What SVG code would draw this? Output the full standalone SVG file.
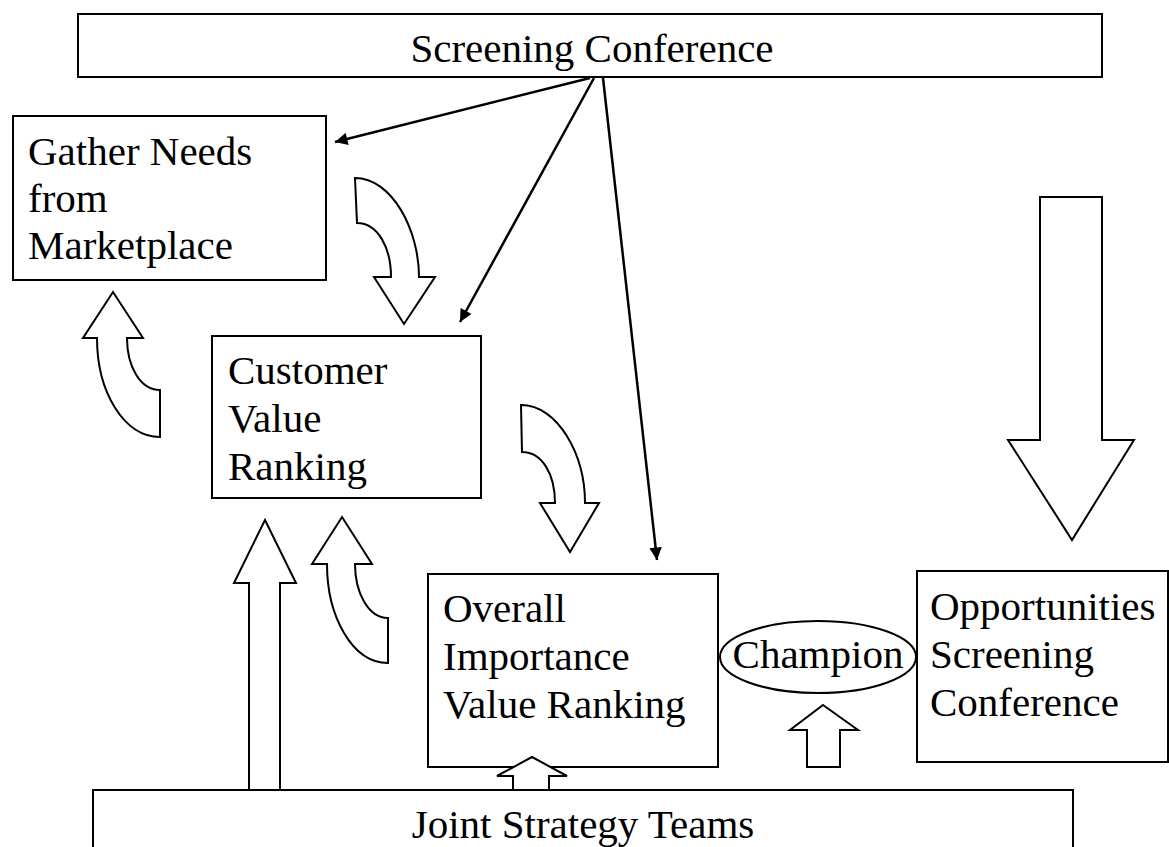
<svg xmlns="http://www.w3.org/2000/svg" width="1169" height="847" viewBox="0 0 1169 847">
<style>
.box{fill:#fff;stroke:#000;stroke-width:2}
.blk{fill:#fff;stroke:#000;stroke-width:2;stroke-linejoin:miter}
.t{font-family:"Liberation Serif","Times New Roman",serif;font-size:41px;fill:#000}
.ln{stroke:#000;stroke-width:2.5;fill:none}
</style>
<defs>
<marker id="ah" viewBox="0 0 10 10" refX="10" refY="5" markerWidth="6" markerHeight="5" markerUnits="strokeWidth" orient="auto">
<path d="M0,0 L10,5 L0,10 Z" fill="#000"/>
</marker>
</defs>
<rect width="1169" height="847" fill="#fff"/>
<g id="screening-conference">
<rect class="box" x="78" y="14" width="1024" height="63"/>
<text class="t" x="592" y="62" text-anchor="middle">Screening Conference</text>
</g>
<g id="gather-needs">
<rect class="box" x="13" y="116" width="313" height="164"/>
<text class="t" x="28" y="165">Gather Needs</text>
<text class="t" x="28" y="212">from</text>
<text class="t" x="28" y="259">Marketplace</text>
</g>
<g id="customer-value">
<rect class="box" x="212" y="336" width="269" height="162"/>
<text class="t" x="228" y="384">Customer</text>
<text class="t" x="228" y="432">Value</text>
<text class="t" x="228" y="480">Ranking</text>
</g>
<g id="overall-importance">
<rect class="box" x="428" y="574" width="290" height="193"/>
<text class="t" x="443" y="622">Overall</text>
<text class="t" x="443" y="670">Importance</text>
<text class="t" x="443" y="718">Value Ranking</text>
</g>
<g id="champion">
<ellipse class="box" cx="818" cy="657" rx="98" ry="36"/>
<text class="t" x="818" y="668" text-anchor="middle">Champion</text>
</g>
<g id="opportunities">
<rect class="box" x="917" y="571" width="251" height="191"/>
<text class="t" x="930" y="620">Opportunities</text>
<text class="t" x="930" y="668">Screening</text>
<text class="t" x="930" y="716">Conference</text>
</g>
<g id="joint-strategy-teams">
<rect class="box" x="93" y="790" width="980" height="70"/>
<text class="t" x="583" y="838" text-anchor="middle">Joint Strategy Teams</text>
</g>
<g id="connectors">
<line class="ln" x1="590" y1="78" x2="335" y2="142" marker-end="url(#ah)"/>
<line class="ln" x1="594" y1="78" x2="460" y2="322" marker-end="url(#ah)"/>
<line class="ln" x1="603" y1="78" x2="657" y2="560" marker-end="url(#ah)"/>
<path class="blk" d="M355,178 C392,178 419,230 419,277 L435,277 L404,324 L374,277 L391,277 C391,248 378,223 357,223 Z"/>
<path class="blk" d="M521,405 C558,405 585,455 585,503 L599,503 L570,552 L540,503 L555,503 C555,474 542,452 522,452 Z"/>
<path class="blk" d="M113,292 L143,338 L127,338 C127,366 140,390 160,390 L160,437 C124,437 97,392 97,338 L83,338 Z"/>
<path class="blk" d="M342,517 L372,564 L355,564 C355,592 368,618 388,618 L388,663 C352,663 327,616 327,564 L312,564 Z"/>
<path class="blk" d="M265,520 L296,583 L280,583 L280,790 L249,790 L249,583 L234,583 Z"/>
<path class="blk" d="M1040,197 L1102,197 L1102,440 L1134,440 L1072,540 L1008,440 L1040,440 Z"/>
<path class="blk" d="M532,757 L567,776 L549,776 L549,790 L513,790 L513,776 L497,776 Z"/>
<path class="blk" d="M823,705 L858,730 L840,730 L840,767 L807,767 L807,730 L790,730 Z"/>
</g>
</svg>
